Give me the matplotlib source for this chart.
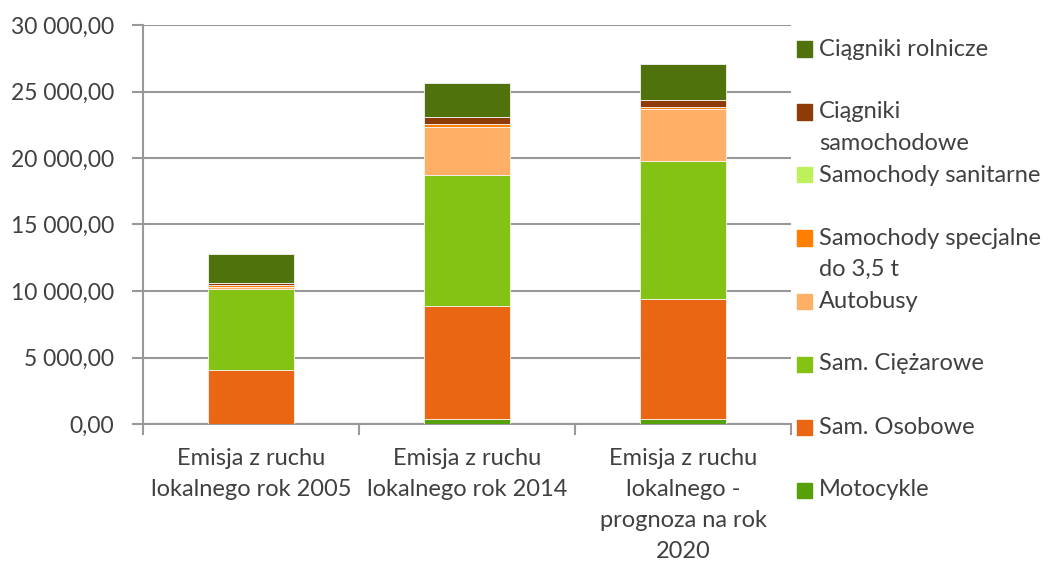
import numpy as np
import matplotlib
matplotlib.use('Agg')
from matplotlib import pyplot as plt
from matplotlib.ticker import FuncFormatter
from matplotlib.patches import Rectangle

# data (emission, stacked)
categories = ['Emisja z ruchu\nlokalnego rok 2005',
              'Emisja z ruchu\nlokalnego rok 2014',
              'Emisja z ruchu\nlokalnego -\nprognoza na rok\n2020']
series_names = ['Motocykle', 'Sam. Osobowe', 'Sam. Ciężarowe', 'Autobusy',
                'Samochody specjalne\ndo 3,5 t', 'Samochody sanitarne',
                'Ciągniki\nsamochodowe', 'Ciągniki rolnicze']
motocykle = [20, 350, 370]
osobowe = [4060, 8540, 9000]
ciezarowe = [6090, 9830, 10420]
autobusy = [130, 3610, 3860]
specjalne = [120, 225, 150]
sanitarne = [5, 10, 10]
ciagniki_sam = [200, 500, 550]
ciagniki_rol = [2130, 2550, 2680]
colors = ['#58A00A', '#EA6612', '#84C213', '#FFB066',
          '#FF8000', '#BDF05A', '#8F3B09', '#4F720C']

series = [motocykle, osobowe, ciezarowe, autobusy, specjalne, sanitarne,
          ciagniki_sam, ciagniki_rol]

plt.rcParams['font.family'] = ['Lato', 'DejaVu Sans']
txt_col = '#404040'
grid_col = '#989898'

fig = plt.figure(figsize=(10.51, 5.65), dpi=100)
ax = fig.add_axes([143/1051, 1-424/565, (791-143)/1051, (424-25)/565])

x = np.arange(len(categories))
bottom = np.zeros(len(categories))
for vals, col in zip(series, colors):
    ax.bar(x, vals, 0.4, bottom=bottom, color=col, edgecolor='#f4f4f4',
           linewidth=0.6, zorder=3)
    bottom += np.array(vals)

ax.set_xlim(-0.5, 2.5)
ax.set_ylim(0, 30000)
ax.set_yticks(np.arange(0, 30001, 5000))
ax.yaxis.set_major_formatter(FuncFormatter(
    lambda v, p: '{:,.2f}'.format(v).replace(',', ' ').replace('.', ',')))
ax.grid(axis='y', color=grid_col, linewidth=1.5, zorder=0)

ax.set_xticks(x)
ax.set_xticklabels(categories, fontsize=17, color=txt_col, linespacing=1.6,
                   va='top')
ax.tick_params(axis='x', length=0, pad=17)
ax.set_xticks([-0.5, 0.5, 1.5, 2.5], minor=True)
ax.tick_params(axis='x', which='minor', length=8, width=1.5, color=grid_col)
ax.tick_params(axis='y', length=8, width=1.5, color=grid_col, pad=13,
               labelsize=16.5, labelcolor=txt_col)

for s in ['top', 'right']:
    ax.spines[s].set_visible(False)
for s in ['left', 'bottom']:
    ax.spines[s].set_color(grid_col)
    ax.spines[s].set_linewidth(1.5)

# legend drawn by hand, top-down in reverse stack order
W, H = 1051, 565
y0, step = 49, 63
for i, (name, col) in enumerate(zip(series_names[::-1], colors[::-1])):
    yc = y0 + i*step
    fig.add_artist(Rectangle((797/W, 1-(yc+7.5)/H), 15/W, 15/H,
                             transform=fig.transFigure, color=col))
    for j, line in enumerate(name.split('\n')):
        fig.text(819/W, 1-(yc + j*31)/H, line, fontsize=17, color=txt_col,
                 va='center', ha='left')

fig.savefig('out.png', dpi=100)
